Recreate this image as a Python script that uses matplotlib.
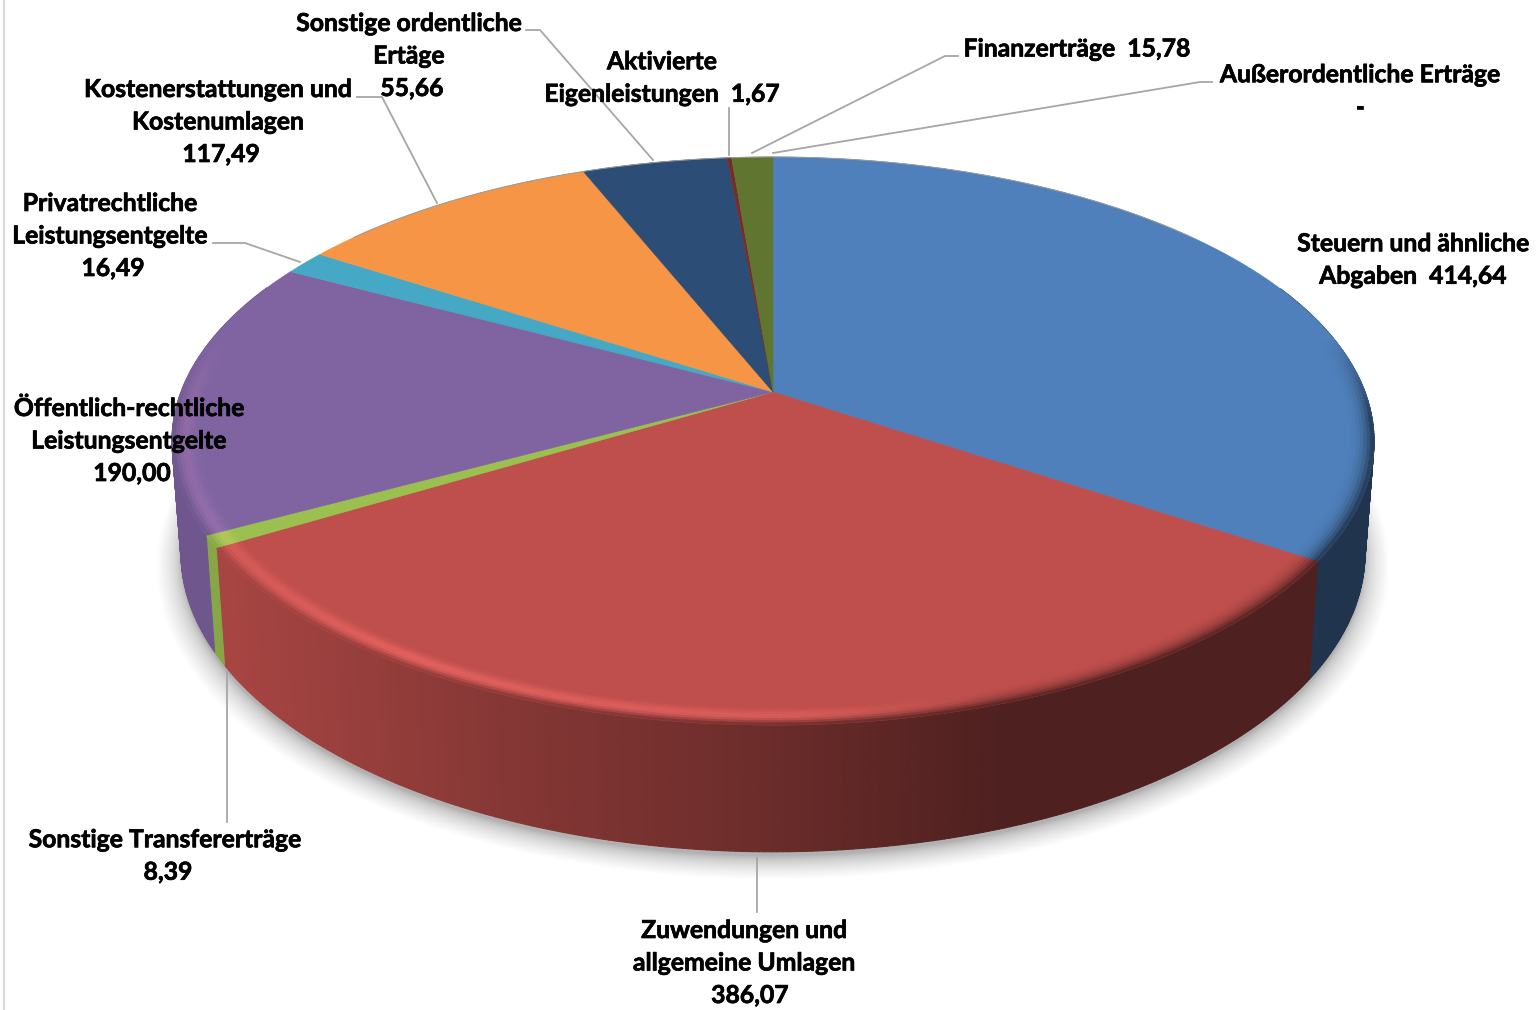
# -*- coding: utf-8 -*-
import numpy as np
import matplotlib
matplotlib.use("Agg")
import matplotlib.pyplot as plt
import matplotlib.patheffects as pe
from matplotlib.collections import PolyCollection

# Werte der Segmente, im Uhrzeigersinn ab 12 Uhr
werte = [414.64, 386.07, 8.39, 190.00, 16.49, 117.49, 55.66, 1.67, 15.78, 0.0]
texte = ["Steuern und ähnliche\nAbgaben  {}",
         "Zuwendungen und\nallgemeine Umlagen\n  {}",
         "Sonstige Transfererträge\n {}",
         "Öffentlich-rechtliche\nLeistungsentgelte\n {}",
         "Privatrechtliche\nLeistungsentgelte\n {}",
         "Kostenerstattungen und\nKostenumlagen\n {}",
         "Sonstige ordentliche\nErtäge\n {}",
         "Aktivierte\nEigenleistungen  {}",
         "Finanzerträge  {}",
         "Außerordentliche Erträge\n{}"]
farben = ["#4F80BB", "#BF4F4C", "#9BC050", "#8064A2", "#45A8C4",
          "#F59545", "#2C4D75", "#772C2A", "#5F7530", "#F59545"]

# Lage der Beschriftungen in Pixeln
text_pos = [(1413, 260), (744, 963), (165, 856), (129, 441), (110, 236),
            (218, 122), (409, 56), (662, 78), (1077, 49), (1360, 91)]
linien = [None,
          [(757, 858), (757, 912)],
          [(227, 672), (227, 822)],
          None,
          [(213, 243), (245, 243), (300, 262)],
          [(357, 97), (382, 97), (437, 203)],
          [(526, 30), (540, 30), (653, 160)],
          [(729, 108), (729, 155)],
          [(958, 56), (945, 56), (752, 153)],
          [(1212, 82), (1200, 82), (773, 153)]]

# Perspektive der Kreisscheibe
cx, cy = 773.0, 392.0
a, b, k = 592.0, 275.6, 0.1725
tiefe, s_unten = 109.0, 0.985


def oben(w, r=1.0):
    u, v = r * np.sin(w), -r * np.cos(w)
    n = 1 - k * v
    return cx + a * u / n, cy + b * v / n


def unten(w, s=s_unten, d=tiefe):
    u, v = np.sin(w), -np.cos(w)
    n = 1 - k * v
    return cx + a * s * u / n, cy + (b * s * v + d) / n


def rgb(c):
    return np.array(matplotlib.colors.to_rgb(c))


def schatten(x):
    return np.interp(x, [175, 230, 500, 750, 1000, 1400], [.87, .87, .70, .57, .41, .41])


plt.rcParams['font.family'] = ['Lato', 'DejaVu Sans']
fig = plt.figure(figsize=(15.39, 10.10), dpi=100)
ax = fig.add_axes([0, 0, 1, 1])
ax.set_xlim(0, 1539)
ax.set_ylim(1010, 0)
ax.axis('off')

# Rahmen links
ax.plot([3.5, 3.5], [0, 1010], color='#d9d9d9', lw=1.5, zorder=1)

# weicher Schatten unter der Scheibe
ringw = np.linspace(0, 2 * np.pi, 361)
for e in np.linspace(1, 0, 26):
    xs, ys = unten(ringw, s=s_unten + e * e * 0.04, d=tiefe + e * 8)
    ax.fill(xs, ys + 4, color='k', alpha=0.011, lw=0, zorder=2)

grenzen = np.concatenate([[0], np.cumsum(werte)]) / np.sum(werte) * 2 * np.pi

# Seitenwand
quads, qfarben = [], []
for i in range(len(werte)):
    if werte[i] == 0:
        continue
    n = max(2, int((grenzen[i + 1] - grenzen[i]) * 120))
    w = np.linspace(grenzen[i], grenzen[i + 1], n + 1)
    for w0, w1 in zip(w[:-1], w[1:]):
        if np.cos(w0) > 0.4 and np.cos(w1) > 0.4:
            continue
        x0, y0 = oben(w0)
        x1, y1 = oben(w1)
        x2, y2 = unten(w1)
        x3, y3 = unten(w0)
        quads.append([(x0, y0), (x1, y1), (x2, y2), (x3, y3)])
        qfarben.append(rgb(farben[i]) * schatten((x0 + x1) / 2))
ax.add_collection(PolyCollection(quads, facecolors=qfarben, edgecolors=qfarben,
                                 linewidths=0.8, zorder=3))

# Deckfläche
for i in range(len(werte)):
    if werte[i] == 0:
        continue
    w = np.linspace(grenzen[i], grenzen[i + 1], 200)
    xs, ys = oben(w)
    ax.fill(np.r_[cx, xs], np.r_[cy, ys], color=farben[i], lw=0.4, zorder=4)

# Wulst am vorderen Rand
r0 = 0.95
ringe = np.linspace(r0, 1.0, 10)
quads, qfarben = [], []
for i in range(len(werte)):
    if werte[i] == 0:
        continue
    n = max(2, int((grenzen[i + 1] - grenzen[i]) * 120))
    w = np.linspace(grenzen[i], grenzen[i + 1], n + 1)
    for w0, w1 in zip(w[:-1], w[1:]):
        vm = -np.cos((w0 + w1) / 2)
        vorn = np.clip((vm + 0.2) / 0.3, 0, 1)
        if vorn == 0:
            continue
        for r1, r2 in zip(ringe[:-1], ringe[1:]):
            f = ((r1 + r2) / 2 - r0) / (1 - r0)
            x0, y0 = oben(w0, r1)
            x1, y1 = oben(w1, r1)
            x2, y2 = oben(w1, r2)
            x3, y3 = oben(w0, r2)
            xm = (x0 + x1) / 2
            basis = rgb(farben[i])
            rand = basis * schatten(xm)
            licht = np.interp(xm, [175, 230, 400, 800, 1000, 1400], [.06, .10, .17, .15, 0, 0])
            g = f ** 3 * vorn
            c = basis * (1 - g) + rand * g
            c = c + licht * vorn * np.sin(np.pi * f ** 1.3) ** 2 * np.array([1.0, .5, .5])
            c = np.clip(c, 0, 1)
            quads.append([(x0, y0), (x1, y1), (x2, y2), (x3, y3)])
            qfarben.append(c)
ax.add_collection(PolyCollection(quads, facecolors=qfarben, edgecolors=qfarben,
                                 linewidths=0.4, zorder=5))

# dünne Linie hinten
w = np.linspace(-0.9, 0.9, 200)
xs, ys = oben(w)
ax.plot(xs, ys, color='#9a9a9a', lw=0.7, zorder=6)

# Führungslinien und Beschriftung
for linie in linien:
    if linie is not None:
        ax.plot(*zip(*linie), color='#a6a6a6', lw=1.3, zorder=7)

for wert, text, pos in zip(werte, texte, text_pos):
    s = f"{wert:.2f}".replace('.', ',') if wert > 0 else '-'
    t = ax.text(pos[0], pos[1], text.format(s), ha='center', va='center', fontsize=17.8,
                fontweight='bold', color='black', linespacing=1.5, zorder=8)
    t.set_path_effects([pe.withStroke(linewidth=0.5, foreground='black')])

fig.savefig('out.png', dpi=100)
